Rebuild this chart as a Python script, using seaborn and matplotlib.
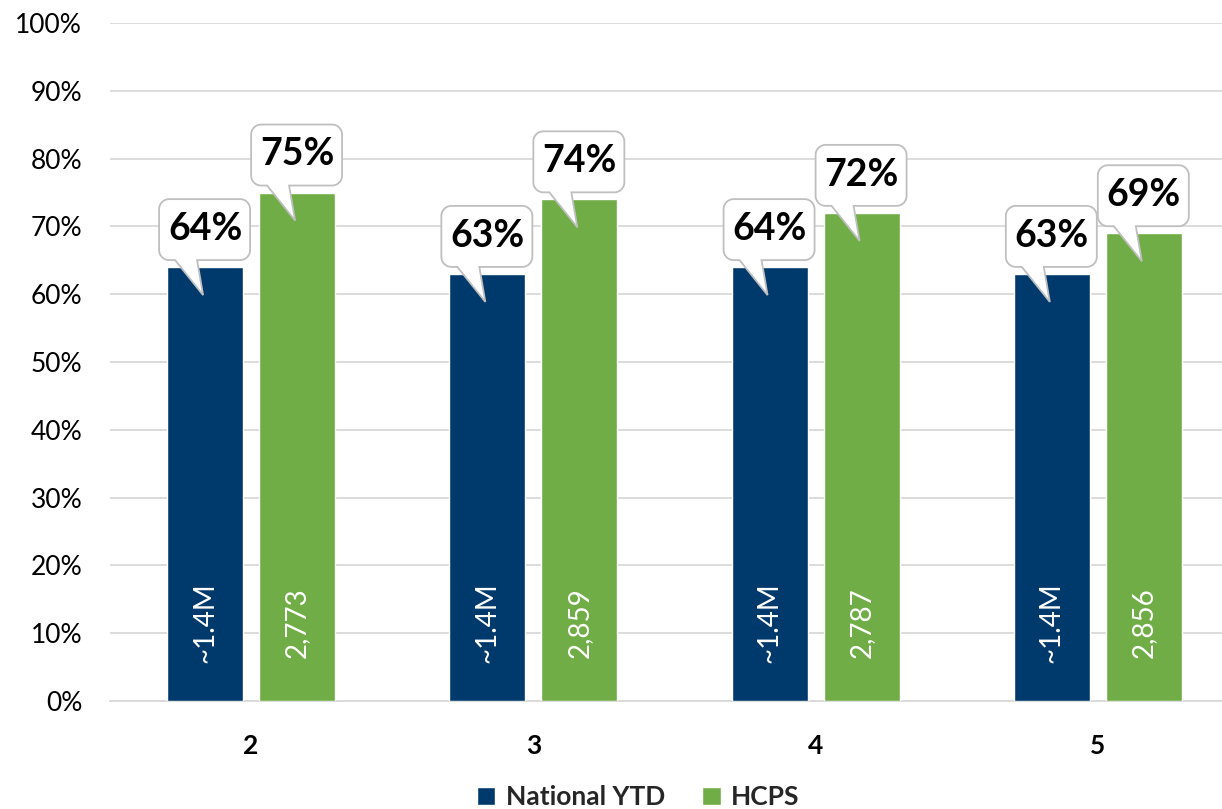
import numpy as np
import pandas as pd
import matplotlib
matplotlib.use('Agg')
import matplotlib.pyplot as plt
import matplotlib.transforms as mtransforms
from matplotlib.patches import Polygon
import seaborn as sns

# data
grades = ['2', '3', '4', '5']
series = ['National YTD', 'HCPS']
national_pct = [64, 63, 64, 63]
hcps_pct = [75, 74, 72, 69]
national_n = ['~1.4M', '~1.4M', '~1.4M', '~1.4M']
hcps_n = ['2,773', '2,859', '2,787', '2,856']
y_ticks = list(range(0, 101, 10))

colors = ['#003A6C', '#70AD47']

df = pd.DataFrame({
    'grade': grades * 2,
    'series': [series[0]] * 4 + [series[1]] * 4,
    'pct': national_pct + hcps_pct,
})

sns.set_theme(style='white')
plt.rcParams['font.family'] = ['Lato', 'DejaVu Sans']

fig = plt.figure(figsize=(12.22, 8.09), dpi=100)
ax = fig.add_axes([0.09, 0.1335, 0.91, 0.838])

sns.barplot(data=df, x='grade', y='pct', hue='series', palette=colors,
            width=0.652, gap=0.174, saturation=1, ax=ax, zorder=3)

ax.set_ylim(0, 100)
ax.set_xlim(-0.5, 3.44)
ax.set_yticks(y_ticks)
ax.set_yticklabels([f'{t}%' for t in y_ticks], fontsize=19, color='#000000')
ax.set_xticks(range(len(grades)))
ax.set_xticklabels(grades, fontsize=19, fontweight='bold', color='#000000')
ax.tick_params(axis='x', pad=24, length=0)
ax.tick_params(axis='y', length=0, pad=20)
ax.set_xlabel('')
ax.set_ylabel('')
ax.grid(axis='y', color='#d9d9d9', linewidth=1.3, zorder=0)
ax.set_axisbelow(True)
for s in ['left', 'right', 'top']:
    ax.spines[s].set_visible(False)
ax.spines['bottom'].set_color('#d9d9d9')
ax.spines['bottom'].set_linewidth(1.3)


def callout_path(r=10):
    # shape in pixels relative to bar top centre, returned in inches
    x0, x1, y0, y1 = -46, 45, 7, 68
    pts = [(-30, y0), (-2, -28), (-8, y0)]
    def arc(cx, cy, a0, a1):
        t = np.radians(np.linspace(a0, a1, 10))
        return list(zip(cx + r * np.cos(t), cy + r * np.sin(t)))
    pts += arc(x1 - r, y0 + r, -90, 0)
    pts += arc(x1 - r, y1 - r, 0, 90)
    pts += arc(x0 + r, y1 - r, 90, 180)
    pts += arc(x0 + r, y0 + r, 180, 270)
    return np.array(pts) / 100.0


shape = callout_path()
inner_labels = [national_n, hcps_n]
for k, cont in enumerate(ax.containers):
    for bar, n_lbl in zip(cont, inner_labels[k]):
        xc = bar.get_x() + bar.get_width() / 2
        h = bar.get_height()
        trans = fig.dpi_scale_trans + mtransforms.ScaledTranslation(xc, h, ax.transData)
        poly = Polygon(shape, closed=True, transform=trans, facecolor='white',
                       edgecolor='#bfbfbf', linewidth=1.3, zorder=5, clip_on=False)
        ax.add_patch(poly)
        ax.annotate(f'{h:.0f}%', xy=(xc, h), xytext=(0, 27.5),
                    textcoords='offset points', ha='center', va='center',
                    fontsize=27, fontweight='bold', color='black', zorder=6)
        ax.text(xc, 11.5, n_lbl, rotation=90, ha='center', va='center',
                fontsize=20, color='white', zorder=4)

leg = ax.legend(loc='center', bbox_to_anchor=(0.475, -0.1416), ncol=2,
                frameon=False, fontsize=19, handlelength=0.7, handleheight=0.7,
                handletextpad=0.4, columnspacing=1.4)
for t in leg.get_texts():
    t.set_fontweight('bold')

fig.savefig('out.png', dpi=100)
